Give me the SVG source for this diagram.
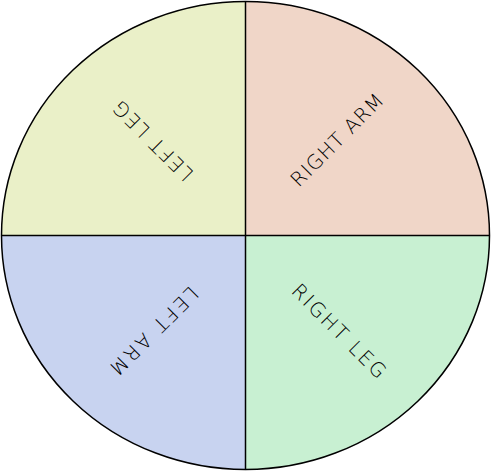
<svg xmlns="http://www.w3.org/2000/svg" width="491" height="471" viewBox="0 0 491 471">
<style>
.q{stroke:#000;stroke-width:1.5}
.t{font-family:"DejaVu Sans","Liberation Sans",sans-serif;font-size:20px;font-weight:200;fill:#000;text-anchor:middle;dominant-baseline:central}
</style>
<defs>
<clipPath id="c"><ellipse cx="245.5" cy="235.5" rx="244" ry="234"/></clipPath>
</defs>
<g clip-path="url(#c)">
<g id="left-leg"><rect x="0" y="0" width="245.5" height="235.5" fill="#EAF0C8"/></g>
<g id="right-arm"><rect x="245.5" y="0" width="246" height="235.5" fill="#F0D6C8"/></g>
<g id="left-arm"><rect x="0" y="235.5" width="245.5" height="236" fill="#C8D3F0"/></g>
<g id="right-leg"><rect x="245.5" y="235.5" width="246" height="236" fill="#C8F0D2"/></g>
</g>
<g id="connectors" fill="none" class="q">
<line x1="1" y1="235.5" x2="490" y2="235.5"/>
<line x1="245.5" y1="1" x2="245.5" y2="470"/>
<ellipse cx="245.5" cy="235.5" rx="244" ry="234"/>
</g>
<text class="t" transform="translate(153,141) rotate(225)" textLength="104" lengthAdjust="spacing">LEFT LEG</text>
<text class="t" transform="translate(337,140) rotate(-45)" textLength="122" lengthAdjust="spacing">RIGHT ARM</text>
<text class="t" transform="translate(154,331) rotate(135)" textLength="116" lengthAdjust="spacing">LEFT ARM</text>
<text class="t" transform="translate(339,331) rotate(45)" textLength="124" lengthAdjust="spacing">RIGHT LEG</text>
</svg>
